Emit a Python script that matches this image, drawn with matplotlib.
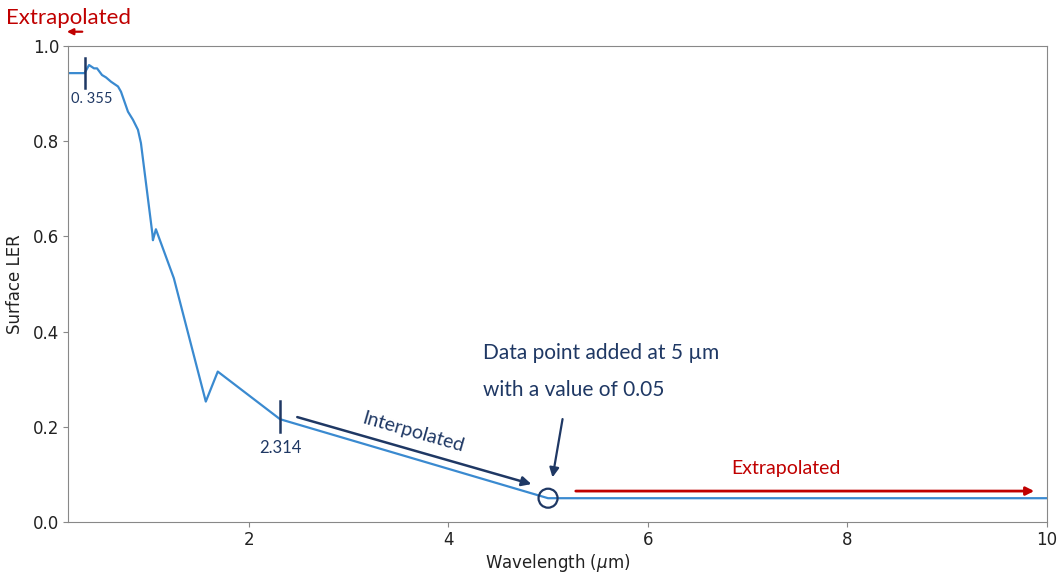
import matplotlib
matplotlib.use('Agg')
import matplotlib.pyplot as plt
from matplotlib.patches import Ellipse
import numpy as np

plt.rcParams['font.family'] = ['DejaVu Sans']

# surface LER spectrum
wavelength = [0.19, 0.355, 0.40, 0.45, 0.48, 0.53, 0.57, 0.62, 0.69, 0.72, 0.79, 0.84,
              0.89, 0.92, 1.035, 1.04, 1.07, 1.25, 1.57, 1.69, 2.314, 5.0, 10.0]
ler = [0.943, 0.943, 0.960, 0.953, 0.953, 0.939, 0.934, 0.925, 0.915, 0.904, 0.862, 0.845,
       0.824, 0.796, 0.605, 0.592, 0.615, 0.512, 0.253, 0.316, 0.216, 0.05, 0.05]

x_ticks = [2, 4, 6, 8, 10]
y_ticks = [0.0, 0.2, 0.4, 0.6, 0.8, 1.0]

navy = '#1f3864'
red = '#c00000'
ann_font = ['Lato', 'DejaVu Sans']

fig = plt.figure(figsize=(10.64, 5.72), dpi=100)
ax = fig.add_axes([0.064, 0.0874, 0.92, 0.8322])
ax.plot(wavelength, ler, color='#3a8ad0', lw=1.6)
ax.set_xlim(0.19, 10)
ax.set_ylim(0, 1.0)
ax.set_xticks(x_ticks)
ax.set_yticks(y_ticks)
ax.tick_params(labelsize=12, color='#888888', labelcolor='#222222', pad=3)
for s in ax.spines.values():
    s.set_color('#888888')
ax.set_xlabel('Wavelength ($\\mu$m)', fontsize=12, labelpad=2, color='#222222')
ax.set_ylabel('Surface LER', fontsize=12, labelpad=6, color='#222222')

# end-of-data markers
ax.plot([0.355, 0.355], [0.912, 0.975], color=navy, lw=1.8)
ax.text(0.43, 0.888, '0. 355', color=navy, fontsize=10.5, ha='center', va='center', family=ann_font)
ax.plot([2.314, 2.314], [0.19, 0.255], color=navy, lw=1.8)
ax.text(2.314, 0.155, '2.314', color=navy, fontsize=12, ha='center', va='center', family=ann_font)

# interpolated segment
ax.annotate('', xy=(4.86, 0.078), xytext=(2.46, 0.222),
            arrowprops=dict(arrowstyle='-|>', color=navy, lw=1.8, mutation_scale=14))
ax.text(3.65, 0.188, 'Interpolated', color=navy, fontsize=14, rotation=-16,
        ha='center', va='center', family=ann_font)

# added data point
fig.canvas.draw()
r_px = 9.5
p0 = ax.transData.transform((5.0, 0.05))
w = ax.transData.inverted().transform((p0[0] + r_px, p0[1] + r_px))
ax.add_patch(Ellipse((5.0, 0.05), 2 * (w[0] - 5.0), 2 * (w[1] - 0.05),
                     fill=False, edgecolor=navy, lw=1.6, zorder=5))
ax.annotate('', xy=(5.04, 0.088), xytext=(5.15, 0.222),
            arrowprops=dict(arrowstyle='-|>', color=navy, lw=1.6, mutation_scale=14))
ax.text(4.35, 0.355, 'Data point added at 5 µm', color=navy, fontsize=15,
        ha='left', va='center', family=ann_font)
ax.text(4.35, 0.277, 'with a value of 0.05', color=navy, fontsize=15,
        ha='left', va='center', family=ann_font)

# extrapolated to the right
ax.annotate('', xy=(9.9, 0.065), xytext=(5.25, 0.065),
            arrowprops=dict(arrowstyle='-|>', color=red, lw=2, mutation_scale=12))
ax.text(7.38, 0.113, 'Extrapolated', color=red, fontsize=14, ha='center', va='center', family=ann_font)

# extrapolated to the left (outside axes)
fig.text(0.064, 0.968, 'Extrapolated', color=red, fontsize=16, ha='center', va='center', family=ann_font)
ax.annotate('', xy=(0.15, 1.03), xytext=(0.36, 1.03), xycoords='data',
            arrowprops=dict(arrowstyle='-|>', color=red, lw=1.6, mutation_scale=9),
            annotation_clip=False)

fig.savefig('out.png', dpi=100)
